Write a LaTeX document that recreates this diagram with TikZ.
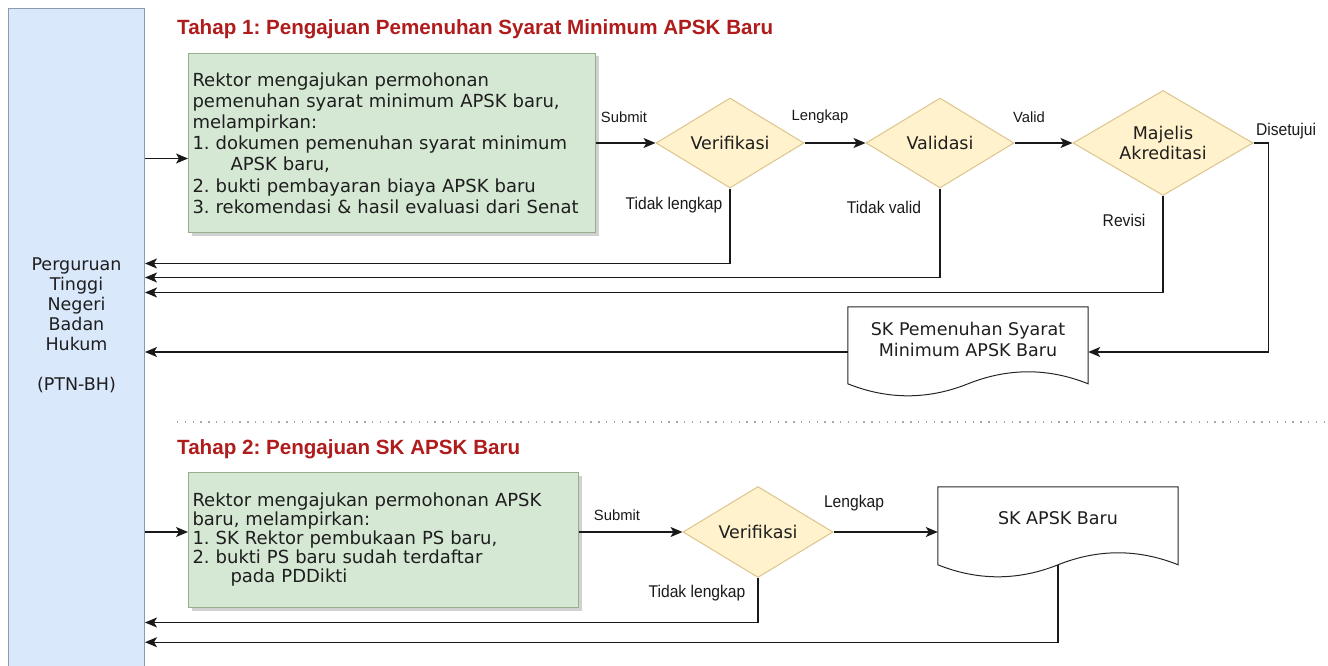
\documentclass[tikz,border=0pt]{standalone}
\usepackage{fontspec}
\setmainfont{DejaVu Sans}
\newfontfamily\titlefont{Liberation Sans}
\newfontfamily\labelfont{Liberation Sans}
\newfontfamily\narrowfont{Liberation Sans}[FakeStretch=0.92]
\usepackage{xcolor}
\usetikzlibrary{positioning, arrows.meta, shapes.geometric, shadows, calc}
\frenchspacing

\definecolor{ptnfill}{HTML}{DAE8FC}
\definecolor{ptnline}{HTML}{8C9BB0}
\definecolor{stepfill}{HTML}{D5E8D4}
\definecolor{stepline}{HTML}{96B08E}
\definecolor{decfill}{HTML}{FFF2CC}
\definecolor{decline}{HTML}{DCC48C}
\definecolor{titlered}{HTML}{B01C1C}
\definecolor{sepgray}{HTML}{A8A8A8}
\definecolor{textgray}{HTML}{1E1E1E}

\tikzset{
	ptnbox/.style={draw=ptnline, fill=ptnfill, line width=1pt, rectangle, minimum width=136pt, minimum height=680pt, anchor=north west},
	ptntext/.style={align=center, text=textgray, font=\fontsize{17.5}{20}\selectfont},
	stepbox/.style={draw=stepline, fill=stepfill, line width=1pt, rectangle, align=left, inner sep=4pt, anchor=north west, text=textgray, drop shadow={shadow xshift=3pt, shadow yshift=-3pt, fill=black!30, opacity=0.6}},
	decision/.style={draw=decline, fill=decfill, line width=1pt, diamond, aspect=1.65, inner sep=0pt, align=center, text=textgray, font=\fontsize{17.5}{20}\selectfont},
	docbox/.style={rectangle, minimum width=240pt, inner sep=0pt, align=center, text=textgray, font=\fontsize{17.5}{21}\selectfont},
	docline/.style={draw=black!85, line width=1pt},
	flowarrow/.style={-{Stealth[length=12pt,width=10pt,inset=3pt]}, line width=1.3pt, black!90},
	lblsmall/.style={inner sep=0pt, text=black!90, font=\labelfont\fontsize{14.8}{16}\selectfont},
	lblbig/.style={inner sep=0pt, text=black!90, font=\narrowfont\fontsize{17}{19}\selectfont},
	titletext/.style={anchor=base west, inner sep=0pt, text=titlered, font=\titlefont\bfseries\fontsize{20.6}{24}\selectfont},
	sepline/.style={sepgray, line width=1.3pt, dash pattern=on 1.3pt off 6.5pt}
}

% document shape: straight top and sides, wavy bottom
\newcommand{\wavedoc}[2]{%
	\draw[docline] (#1.north west) -- (#1.north east) -- ([yshift=-#2]#1.north east)
	.. controls +(-40pt,16pt) and +(40pt,16pt) .. ([yshift=-#2]#1.north)
	.. controls +(-40pt,-16pt) and +(40pt,-16pt) .. ([yshift=-#2]#1.north west) -- cycle;}

\begin{document}
\begin{tikzpicture}[x=1pt, y=-1pt]
	\useasboundingbox (0,0) rectangle (1328,666);
	
	%PTN-BH lane
	\node[ptnbox] (ptn) at (8,8) {};
	\node[ptntext] (ptnName) at ([yshift=23pt]ptn.center) {Perguruan\\Tinggi\\Negeri\\Badan\\Hukum\\[20pt](PTN-BH)};
	
	%Tahap 1
	\node[titletext] (tahapA) at (177,35) {Tahap 1: Pengajuan Pemenuhan Syarat Minimum APSK Baru};
	
	\node[stepbox, minimum width=407pt, minimum height=179pt, text width=399pt, font=\fontsize{18}{21.2}\selectfont] (boxA) at (188,53) {Rektor mengajukan permohonan\\ pemenuhan syarat minimum APSK baru,\\ melampirkan:\\ 1. dokumen pemenuhan syarat minimum\\ \hspace*{38pt}APSK baru,\\ 2. bukti pembayaran biaya APSK baru\\ 3. rekomendasi \& hasil evaluasi dari Senat};
	
	\node[decision, minimum width=148pt, minimum height=90pt] (verA) at (730,143) {Verifikasi};
	\node[decision, minimum width=148pt, minimum height=90pt] (valA) at (940,143) {Validasi};
	\node[decision, aspect=1.7, minimum width=180pt, minimum height=105pt] (majA) at (1163,143) {Majelis\\Akreditasi};
	
	\node[docbox, minimum height=64pt] (skA) at (968,339) {SK Pemenuhan Syarat\\Minimum APSK Baru};
	\wavedoc{skA}{77pt}
	
	%Links
	\coordinate (inA) at ([yshift=-15.5pt]boxA.west);
	\draw[flowarrow] (inA -| ptn.east) -- (inA);
	\draw[flowarrow] (boxA.east |- verA.west) -- (verA.west);
	\draw[flowarrow] (verA.east) -- (valA.west);
	\draw[flowarrow] (valA.east) -- (majA.west);
	\draw[flowarrow] (majA.east) -- ++(15,0) |- ([yshift=-13pt]skA.east);
	\draw[flowarrow] (verA.south) -- ++(0,75) coordinate (backA) -- (backA -| ptn.east);
	\draw[flowarrow] (valA.south) -- ++(0,89) coordinate (backB) -- (backB -| ptn.east);
	\draw[flowarrow] (majA.south) -- ++(0,96.5) coordinate (backC) -- (backC -| ptn.east);
	\draw[flowarrow] ([yshift=-13pt]skA.west) coordinate (outA) -- (outA -| ptn.east);
	
	%Labels
	\node[lblsmall] (submitA) at (624,117) {Submit};
	\node[lblsmall] (lengkapA) at (820,117) {Lengkap};
	\node[lblsmall] (validA) at (1029,117) {Valid};
	\node[lblbig] (setujuA) at (1286,131) {Disetujui};
	\node[lblbig] (tidakA) at (674,205) {Tidak lengkap};
	\node[lblbig] (tidakvA) at (884,207) {Tidak valid};
	\node[lblbig] (revisiA) at (1124,220) {Revisi};
	
	%Separator
	\draw[sepline] (177,422) -- (1328,422);
	
	%Tahap 2
	\node[titletext] (tahapB) at (177,454) {Tahap 2: Pengajuan SK APSK Baru};
	
	\node[stepbox, minimum width=390pt, minimum height=135pt, text width=382pt, font=\fontsize{18}{19}\selectfont] (boxB) at (188,472) {Rektor mengajukan permohonan APSK\\ baru, melampirkan:\\ 1. SK Rektor pembukaan PS baru,\\ 2. bukti PS baru sudah terdaftar\\ \hspace*{38pt}pada PDDikti};
	
	\node[decision, minimum width=150pt, minimum height=91pt] (verB) at (758,532) {Verifikasi};
	
	\node[docbox, minimum height=62pt] (skB) at (1058,518) {SK APSK Baru};
	\wavedoc{skB}{78pt}
	
	%Links
	\draw[flowarrow] (ptn.east |- verB.west) -- (boxB.west |- verB.west);
	\draw[flowarrow] (boxB.east |- verB.west) -- (verB.west);
	\draw[flowarrow] (verB.east) -- (skB.west |- verB.east);
	\draw[flowarrow] (verB.south) -- ++(0,44.5) coordinate (backD) -- (backD -| ptn.east);
	\draw[flowarrow] ([yshift=-16pt]skB.south) -- ++(0,77) coordinate (backE) -- (backE -| ptn.east);
	
	%Labels
	\node[lblsmall] (submitB) at (617,515) {Submit};
	\node[lblbig] (lengkapB) at (854,503) {Lengkap};
	\node[lblbig] (tidakB) at (697,593) {Tidak lengkap};
	
\end{tikzpicture}
\end{document}
